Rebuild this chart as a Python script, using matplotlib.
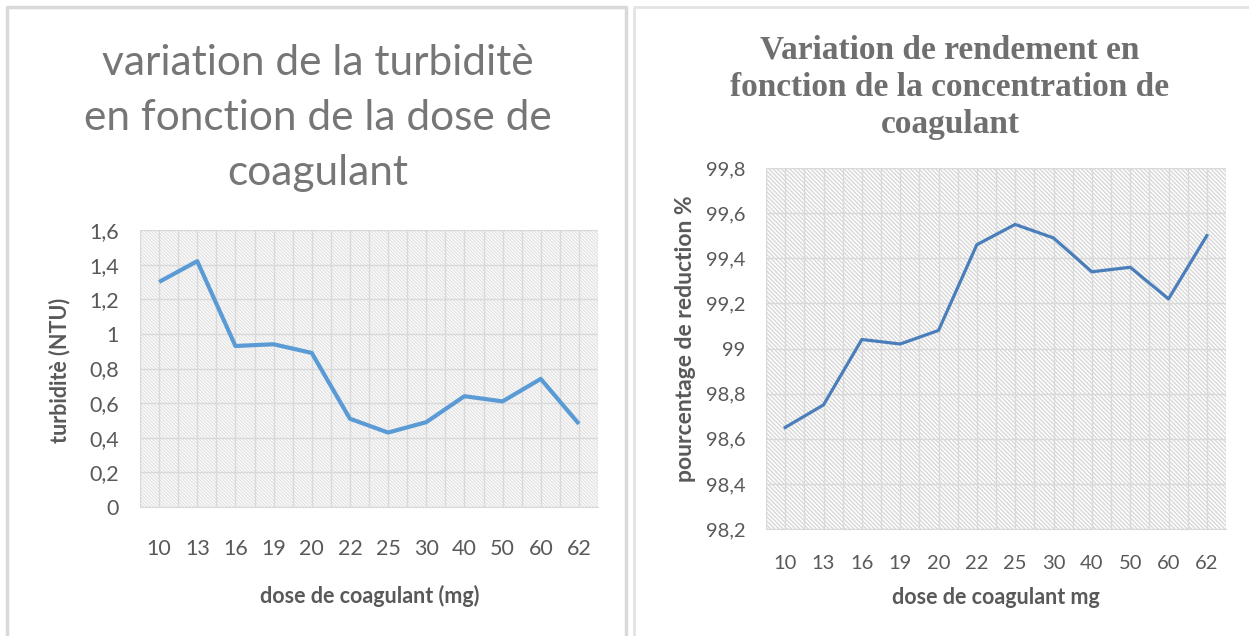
import matplotlib
matplotlib.use("Agg")
import matplotlib.pyplot as plt, numpy as np
from matplotlib.patches import Rectangle

# data
doses = ["10", "13", "16", "19", "20", "22", "25", "30", "40", "50", "60", "62"]
turbidite = [1.30, 1.42, 0.93, 0.94, 0.89, 0.51, 0.43, 0.49, 0.64, 0.61, 0.74, 0.48]
rendement = [98.65, 98.75, 99.04, 99.02, 99.08, 99.46, 99.55, 99.49, 99.34, 99.36, 99.22, 99.50]

turb_ticks = [0, 0.2, 0.4, 0.6, 0.8, 1.0, 1.2, 1.4, 1.6]
turb_labels = ["0", "0,2", "0,4", "0,6", "0,8", "1", "1,2", "1,4", "1,6"]
rend_ticks = [98.2, 98.4, 98.6, 98.8, 99.0, 99.2, 99.4, 99.6, 99.8]
rend_labels = ["98,2", "98,4", "98,6", "98,8", "99", "99,2", "99,4", "99,6", "99,8"]

W, H = 1249, 636
fig = plt.figure(figsize=(W / 100, H / 100), dpi=100)
txt = "#595959"
grid = "#d9d9d9"

def fx(px):
    return px / W

def fy(py):
    return 1 - py / H

# panel borders
fig.add_artist(plt.Line2D([fx(7), fx(7), fx(626), fx(626)], [0, fy(7), fy(7), 0],
                          color="#d9d9d9", lw=2.5, transform=fig.transFigure))
fig.add_artist(plt.Line2D([fx(634), fx(634), 1], [0, fy(7), fy(7)],
                          color="#e3e3e3", lw=2, transform=fig.transFigure))


def setup(ax, hatch_col, dens):
    x = np.arange(len(doses))
    ax.set_xlim(-0.5, len(doses) - 0.5)
    ax.add_patch(Rectangle((0, 0), 1, 1, transform=ax.transAxes, facecolor="white",
                           edgecolor=hatch_col, lw=0, hatch="\\" * dens, zorder=0))
    ax.set_xticks(x)
    ax.set_xticklabels(doses)
    ax.set_xticks(np.arange(-0.5, len(doses), 1.0), minor=True)
    ax.grid(True, which="both", axis="x", color=grid, lw=1)
    ax.grid(True, which="major", axis="y", color=grid, lw=1)
    ax.set_axisbelow(True)
    for s in ["top", "right", "left"]:
        ax.spines[s].set_visible(False)
    ax.spines["bottom"].set_color(grid)
    ax.tick_params(which="both", length=0, colors=txt)
    ax.set_facecolor("none")


# ---- left chart
ax1 = fig.add_axes([fx(140), fy(507), fx(598) - fx(140), fy(230) - fy(507)])
setup(ax1, "#e4e4e4", 10)
ax1.plot(np.arange(len(doses)), turbidite, color="#5b9bd5", lw=3, solid_capstyle="butt", zorder=3)
ax1.set_ylim(0, 1.6)
ax1.set_yticks(turb_ticks)
ax1.set_yticklabels(turb_labels)
for lab in ax1.get_xticklabels() + ax1.get_yticklabels():
    lab.set_fontfamily("Lato")
    lab.set_fontsize(15.5)
ax1.tick_params(axis="x", pad=23)
ax1.tick_params(axis="y", pad=15)

title_l = ["variation de la turbiditè", "en fonction de la dose de", "coagulant"]
for i, line in enumerate(title_l):
    fig.text(fx(318), fy(63 + 55 * i), line, ha="center", va="center",
             fontsize=30.5, family="Lato", color="#767676")
fig.text(fx(60), fy(370), "turbiditè (NTU)", rotation=90, ha="center", va="center",
         fontsize=15.5, fontweight="bold", family="Lato", color=txt)
fig.text(fx(370), fy(596), "dose de coagulant (mg)", ha="center", va="center",
         fontsize=15.5, fontweight="bold", family="Lato", color=txt)

# ---- right chart
ax2 = fig.add_axes([fx(766), fy(529), fx(1226) - fx(766), fy(168) - fy(529)])
setup(ax2, "#d8d8d8", 8)
ax2.plot(np.arange(len(doses)), rendement, color="#4a7ebb", lw=2.3, zorder=3)
ax2.set_ylim(98.2, 99.8)
ax2.set_yticks(rend_ticks)
ax2.set_yticklabels(rend_labels)
for lab in ax2.get_xticklabels() + ax2.get_yticklabels():
    lab.set_fontfamily("Lato")
    lab.set_fontsize(14.5)
ax2.tick_params(axis="x", pad=19)
ax2.tick_params(axis="y", pad=15)

title_r = ["Variation de rendement en", "fonction de la concentration de", "coagulant"]
for i, line in enumerate(title_r):
    fig.text(fx(950), fy(50 + 37 * i), line, ha="center", va="center",
             fontsize=24, fontweight="bold", family="Liberation Serif", color="#6f6f6f")
fig.text(fx(685), fy(339), "pourcentage de reduction %", rotation=90, ha="center",
         va="center", fontsize=16.5, fontweight="bold", family="Lato", color=txt)
fig.text(fx(996), fy(597), "dose de coagulant mg", ha="center", va="center",
         fontsize=15.5, fontweight="bold", family="Lato", color=txt)

fig.savefig("out.png", dpi=100)
